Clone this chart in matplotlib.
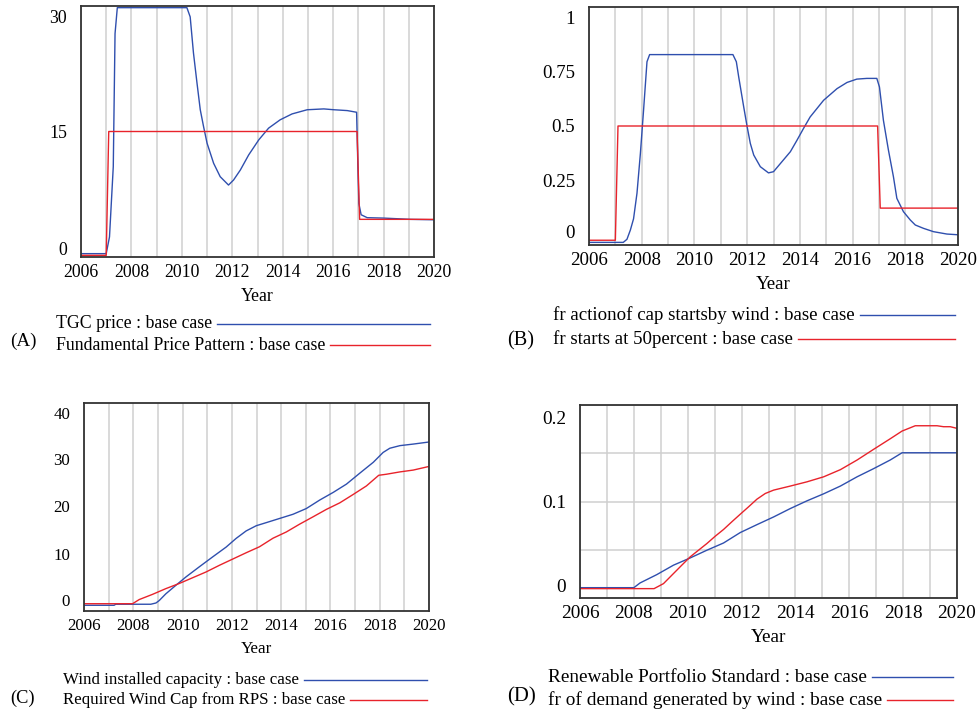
import matplotlib
matplotlib.use("Agg")
import matplotlib.pyplot as plt
from matplotlib.lines import Line2D
from matplotlib.transforms import ScaledTranslation

plt.rcParams['font.family'] = ['Liberation Serif', 'DejaVu Serif']

# ---- data ----
# (A) TGC price / fundamental price pattern
tgc_years = [2006, 2007.0, 2007.13, 2007.28, 2007.35, 2007.44, 2010.2, 2010.33, 2010.46, 2010.6,
             2010.73, 2010.86, 2011.0, 2011.26, 2011.52, 2011.85, 2012.05, 2012.32, 2012.65, 2013.05,
             2013.44, 2013.9, 2014.37, 2014.97, 2015.63, 2016.03, 2016.56, 2016.93, 2016.98, 2017.02,
             2017.11, 2017.35, 2018.01, 2019.07, 2020]
tgc_price = [0.4, 0.4, 2.4, 10.8, 26.7, 29.8, 29.8, 28.7, 24.4, 20.8,
             17.6, 15.6, 13.6, 11.2, 9.6, 8.6, 9.2, 10.4, 12.2, 14.0,
             15.4, 16.4, 17.1, 17.6, 17.7, 17.6, 17.5, 17.3, 11.0, 6.4,
             5.05, 4.7, 4.65, 4.5, 4.45]
fund_years = [2006, 2007.0, 2007.1, 2016.95, 2017.05, 2020]
fund_price = [0.2, 0.2, 15, 15, 4.5, 4.5]

# (B) fraction of capacity starts by wind / starts at 50 percent
frw_years = [2006, 2007.3, 2007.44, 2007.57, 2007.69, 2007.82, 2007.95, 2008.07, 2008.2, 2008.3,
             2011.46, 2011.59, 2011.68, 2011.87, 2012.0, 2012.12, 2012.25, 2012.5, 2012.81, 2013.0,
             2013.32, 2013.64, 2013.89, 2014.14, 2014.39, 2014.9, 2015.41, 2015.79, 2016.16, 2016.54,
             2016.92, 2017.02, 2017.17, 2017.36, 2017.55, 2017.68, 2017.93, 2018.19, 2018.38, 2018.69,
             2019.07, 2019.58, 2020]
frw_value = [0.011, 0.011, 0.024, 0.063, 0.11, 0.217, 0.385, 0.566, 0.77, 0.80,
             0.80, 0.77, 0.706, 0.58, 0.497, 0.427, 0.378, 0.329, 0.303, 0.308,
             0.35, 0.392, 0.44, 0.49, 0.538, 0.608, 0.657, 0.683, 0.697, 0.70,
             0.70, 0.664, 0.524, 0.399, 0.287, 0.196, 0.14, 0.105, 0.084, 0.07,
             0.056, 0.046, 0.043]
fr50_years = [2006, 2007.0, 2007.1, 2016.95, 2017.05, 2020]
fr50_value = [0.02, 0.02, 0.5, 0.5, 0.155, 0.155]

# (C) wind installed capacity / required wind cap from RPS
wic_years = [2006, 2007.22, 2007.29, 2008.71, 2008.92, 2009.05, 2009.32, 2009.73, 2010.14, 2010.68,
             2011.22, 2011.77, 2012.17, 2012.58, 2012.99, 2013.4, 2013.94, 2014.48, 2015.02, 2015.57,
             2016.11, 2016.65, 2017.19, 2017.74, 2018.14, 2018.41, 2018.82, 2019.36, 2020]
wic_value = [1.1, 1.1, 1.3, 1.3, 1.54, 2.0, 3.3, 4.95, 6.56, 8.5,
             10.4, 12.3, 13.95, 15.4, 16.4, 17.0, 17.8, 18.6, 19.7, 21.35,
             22.8, 24.4, 26.5, 28.6, 30.5, 31.3, 31.8, 32.1, 32.5]
rwc_years = [2006, 2007.97, 2008.24, 2008.78, 2009.32, 2009.87, 2010.41, 2010.95, 2011.5, 2012.04,
             2012.58, 2013.12, 2013.67, 2014.21, 2014.75, 2015.29, 2015.84, 2016.38, 2016.92, 2017.46,
             2017.96, 2018.27, 2018.82, 2019.36, 2020]
rwc_value = [1.4, 1.4, 2.2, 3.2, 4.3, 5.3, 6.4, 7.5, 8.8, 10.0,
             11.2, 12.35, 14.0, 15.2, 16.7, 18.1, 19.55, 20.8, 22.4, 24.05,
             26.1, 26.3, 26.75, 27.1, 27.8]

# (D) renewable portfolio standard / fraction of demand generated by wind
rps_years = [2006, 2008.0, 2008.23, 2008.85, 2009.47, 2010.09, 2010.71, 2011.33, 2011.95, 2012.57,
             2013.19, 2013.81, 2014.43, 2015.05, 2015.67, 2016.29, 2016.9, 2017.52, 2017.96, 2020]
rps_value = [0.0107, 0.0107, 0.0156, 0.0242, 0.034, 0.0415, 0.0495, 0.057, 0.0678, 0.076,
             0.084, 0.0927, 0.1007, 0.108, 0.116, 0.1256, 0.134, 0.143, 0.1505, 0.1505]
fdw_years = [2006, 2008.75, 2009.1, 2009.47, 2009.78, 2010.09, 2010.4, 2010.71, 2011.02, 2011.33,
             2011.64, 2011.95, 2012.26, 2012.57, 2012.88, 2013.19, 2013.81, 2014.43, 2015.05, 2015.67,
             2016.29, 2016.9, 2017.52, 2017.96, 2018.45, 2018.76, 2019.26, 2019.5, 2019.75, 2020]
fdw_value = [0.0097, 0.0097, 0.0149, 0.0253, 0.034, 0.0426, 0.0495, 0.0564, 0.064, 0.071,
             0.079, 0.0868, 0.0945, 0.1024, 0.1083, 0.1118, 0.116, 0.1204, 0.1256, 0.133,
             0.143, 0.154, 0.165, 0.173, 0.1785, 0.1785, 0.1785, 0.1775, 0.1775, 0.1758]

BLUE = '#2f4fae'
RED = '#e8232b'
W, H = 978, 714

fig = plt.figure(figsize=(9.78, 7.14), dpi=100)


def make_axes(left, top, right, bottom):
    return fig.add_axes([left / W, 1 - bottom / H, (right - left) / W, (bottom - top) / H])


def style_axes(ax, ymax, yticks, grid_y, label_shift, fs):
    ax.set_xlim(2006, 2020)
    ax.set_ylim(0, ymax)
    ax.set_xticks(range(2006, 2021, 2))
    ax.set_xticks(range(2007, 2021, 2), minor=True)
    ax.set_yticks(yticks)
    ax.set_yticks(grid_y, minor=True)
    ax.grid(True, axis='x', which='both', color='#cfcfcf', linewidth=1.1)
    ax.grid(True, axis='y', which='minor', color='#cfcfcf', linewidth=1.1)
    ax.tick_params(which='both', length=0)
    ax.tick_params(axis='y', pad=10, labelsize=fs)
    ax.tick_params(axis='x', pad=5, labelsize=fs)
    ax.set_xlabel('Year', fontsize=fs, labelpad=5)
    for sp in ax.spines.values():
        sp.set_color('#333333')
        sp.set_linewidth(1.3)
    ax.set_axisbelow(True)
    for lab, dy in zip(ax.get_yticklabels(), label_shift):
        lab.set_transform(lab.get_transform() + ScaledTranslation(0, dy * 0.72 / 72, fig.dpi_scale_trans))


axA = make_axes(81, 6, 434, 257)
axA.plot(tgc_years, tgc_price, color=BLUE, lw=1.0)
axA.plot(fund_years, fund_price, color=RED, lw=1.0)
style_axes(axA, 30, [0, 15, 30], [15], [9, 0, -10], 12.8)
axA.set_yticklabels(['0', '15', '30'])

axB = make_axes(589, 7, 958, 245)
axB.plot(frw_years, frw_value, color=BLUE, lw=1.0)
axB.plot(fr50_years, fr50_value, color=RED, lw=1.0)
style_axes(axB, 1, [0, 0.25, 0.5, 0.75, 1], [0.25, 0.5, 0.75], [13, 5, 1, -5, -10], 13.6)
axB.set_yticklabels(['0', '0.25', '0.5', '0.75', '1'])

axC = make_axes(84, 403, 429, 611)
axC.plot(wic_years, wic_value, color=BLUE, lw=1.0)
axC.plot(rwc_years, rwc_value, color=RED, lw=1.0)
style_axes(axC, 40, [0, 10, 20, 30, 40], [10, 20, 30], [11, 5, 1, -4, -10], 12.2)
axC.set_yticklabels(['0', '10', '20', '30', '40'])

axD = make_axes(580, 405, 957, 598)
axD.plot(rps_years, rps_value, color=BLUE, lw=1.0)
axD.plot(fdw_years, fdw_value, color=RED, lw=1.0)
style_axes(axD, 0.2, [0, 0.1, 0.2], [0.05, 0.15], [13, 0, -12], 13.9)
axD.grid(True, axis='y', which='major', color='#cfcfcf', linewidth=1.1)
axD.set_yticklabels(['0', '0.1', '0.2'])

# ---- legends below each panel (Vensim style) ----
legends = [
    ('(A)', 10, 341, 56, 430, 12.8, [('TGC price : base case', BLUE, 324),
                                     ('Fundamental Price Pattern : base case', RED, 345)]),
    ('(B)', 507, 341, 553, 955, 13.6, [('fr actionof cap startsby wind : base case', BLUE, 315),
                                       ('fr starts at 50percent : base case', RED, 339)]),
    ('(C)', 10, 698, 63, 427, 12.2, [('Wind installed capacity : base case', BLUE, 680),
                                     ('Required Wind Cap from RPS : base case', RED, 700)]),
    ('(D)', 507, 697, 548, 953, 13.9, [('Renewable Portfolio Standard : base case', BLUE, 677),
                                       ('fr of demand generated by wind : base case', RED, 700)]),
]

fig.canvas.draw()
renderer = fig.canvas.get_renderer()
for tag, tx, ty, xl, xr, fs, items in legends:
    fig.text(tx / W, 1 - ty / H, tag, fontsize=fs + 1, va='center', ha='left')
    for label, color, y in items:
        t = fig.text(xl / W, 1 - y / H, label, fontsize=fs, va='center', ha='left')
        bb = t.get_window_extent(renderer)
        x0 = bb.x1 + 5
        fig.add_artist(Line2D([x0 / W, xr / W], [1 - y / H, 1 - y / H],
                              transform=fig.transFigure, color=color, lw=1.0))

fig.savefig('out.png', dpi=100)
